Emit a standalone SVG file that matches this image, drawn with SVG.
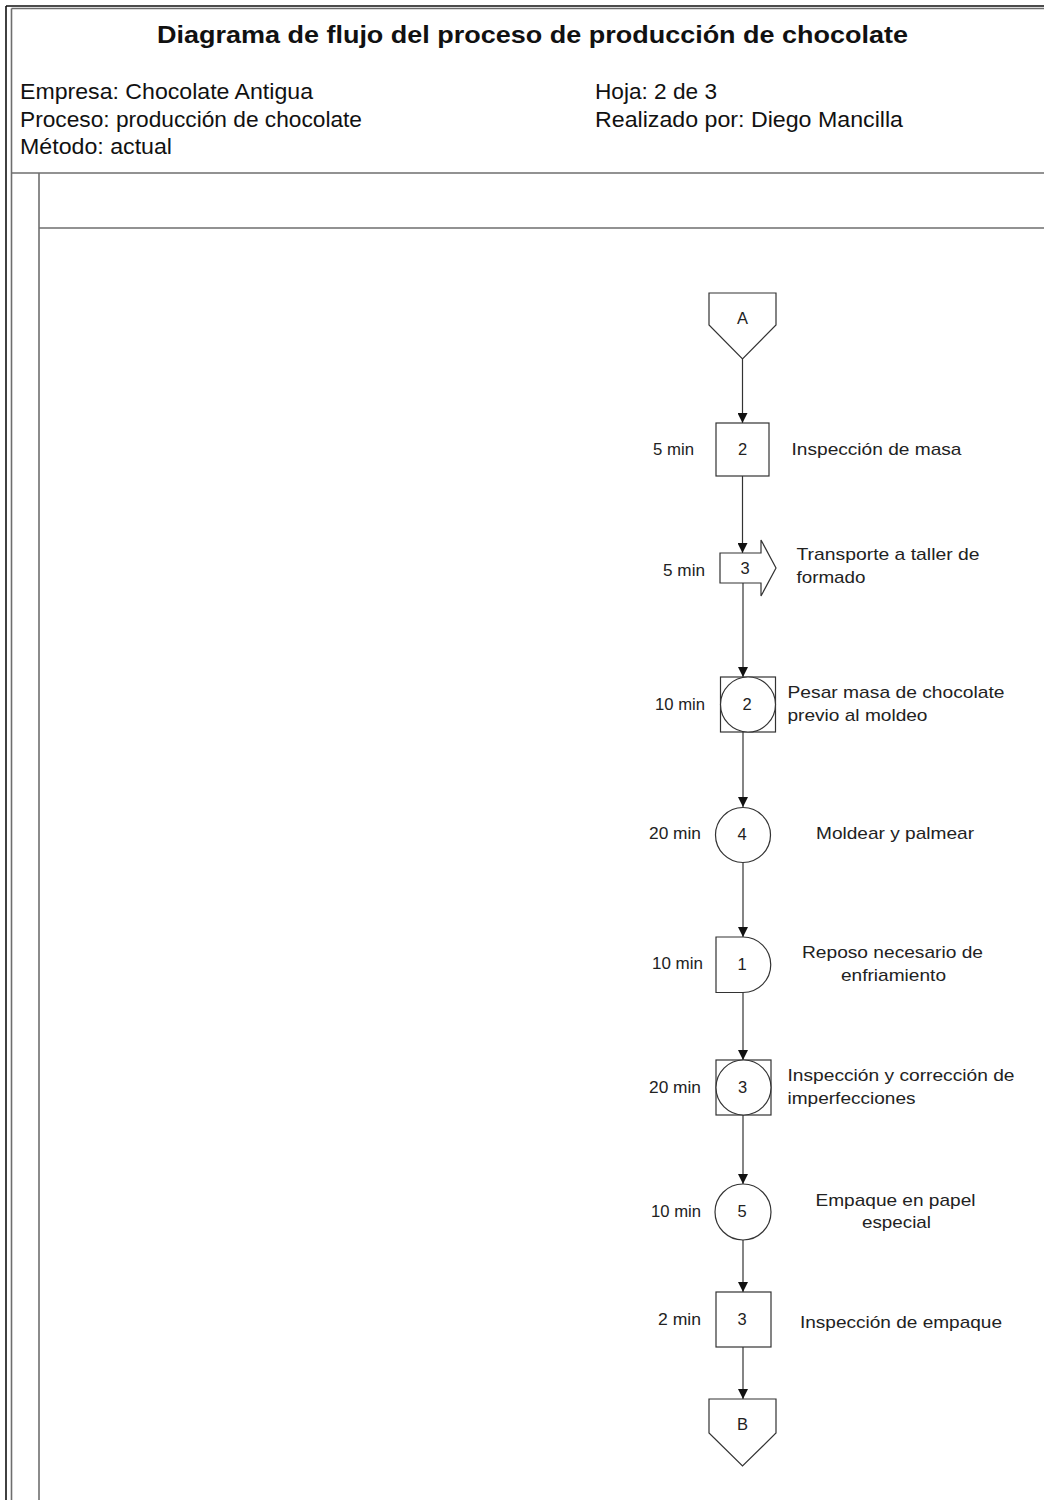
<svg xmlns="http://www.w3.org/2000/svg" width="1044" height="1500" viewBox="0 0 1044 1500">
  <style>
    .frame-dark { stroke: #111; stroke-width: 1.6; fill: none; }
    .frame-gray { stroke: #6e6e6e; stroke-width: 1.6; fill: none; }
    .shape { fill: #fff; stroke: #333; stroke-width: 1.2; }
    .conn { stroke: #333; stroke-width: 1.2; fill: none; }
    .title { font-family: "Liberation Sans", Arial, sans-serif; font-weight: bold; font-size: 24px; fill: #111; }
    .head { font-family: "Liberation Sans", Arial, sans-serif; font-size: 22px; fill: #111; }
    .lbl { font-family: "Liberation Sans", Arial, sans-serif; font-size: 17px; fill: #222; }
    .num { font-family: "Liberation Sans", Arial, sans-serif; font-size: 16.5px; fill: #222; text-anchor: middle; }
  </style>
  <defs>
    <marker id="arrow" viewBox="0 0 10 10" refX="10" refY="5" markerWidth="11" markerHeight="10" markerUnits="userSpaceOnUse" orient="auto">
      <path d="M0,0 L10,5 L0,10 z" fill="#111"/>
    </marker>
  </defs>

  <rect width="1044" height="1500" fill="#fff"/>

  <!-- sheet frame -->
  <g id="frame">
    <line class="frame-dark" x1="6" y1="6" x2="1044" y2="6"/>
    <line class="frame-gray" x1="11.5" y1="8.5" x2="1044" y2="8.5"/>
    <line class="frame-dark" x1="6" y1="6" x2="6" y2="1500"/>
    <line class="frame-gray" x1="11.5" y1="8.5" x2="11.5" y2="1500"/>
    <line class="frame-gray" x1="11.5" y1="173" x2="1044" y2="173"/>
    <line class="frame-gray" x1="39" y1="173" x2="39" y2="1500"/>
    <line class="frame-gray" x1="39" y1="228" x2="1044" y2="228"/>
  </g>

  <!-- header -->
  <g id="header">
    <text class="title" x="157" y="43" textLength="751" lengthAdjust="spacingAndGlyphs">Diagrama de flujo del proceso de producción de chocolate</text>
    <text class="head" x="20" y="99" textLength="293" lengthAdjust="spacingAndGlyphs">Empresa: Chocolate Antigua</text>
    <text class="head" x="20" y="127" textLength="342" lengthAdjust="spacingAndGlyphs">Proceso: producción de chocolate</text>
    <text class="head" x="20" y="154" textLength="152" lengthAdjust="spacingAndGlyphs">Método: actual</text>
    <text class="head" x="595" y="99" textLength="122" lengthAdjust="spacingAndGlyphs">Hoja: 2 de 3</text>
    <text class="head" x="595" y="127" textLength="308" lengthAdjust="spacingAndGlyphs">Realizado por: Diego Mancilla</text>
  </g>

  <!-- connectors -->
  <g id="connectors">
    <line class="conn" x1="742.5" y1="359" x2="742.5" y2="423" marker-end="url(#arrow)"/>
    <line class="conn" x1="742.5" y1="476" x2="742.5" y2="553" marker-end="url(#arrow)"/>
    <line class="conn" x1="743" y1="583" x2="743" y2="677" marker-end="url(#arrow)"/>
    <line class="conn" x1="743" y1="732" x2="743" y2="807" marker-end="url(#arrow)"/>
    <line class="conn" x1="743" y1="862.5" x2="743" y2="937" marker-end="url(#arrow)"/>
    <line class="conn" x1="743" y1="992.5" x2="743" y2="1060" marker-end="url(#arrow)"/>
    <line class="conn" x1="743" y1="1115" x2="743" y2="1184" marker-end="url(#arrow)"/>
    <line class="conn" x1="743" y1="1240" x2="743" y2="1292" marker-end="url(#arrow)"/>
    <line class="conn" x1="743" y1="1347" x2="743" y2="1399" marker-end="url(#arrow)"/>
  </g>

  <!-- off-page connector A -->
  <g id="node-A">
    <polygon class="shape" points="709,293 776,293 776,325 742.5,359 709,325"/>
    <text class="num" x="742.5" y="324">A</text>
  </g>

  <!-- inspection 2 -->
  <g id="node-insp2">
    <rect class="shape" x="716" y="423" width="53" height="53"/>
    <text class="num" x="742.5" y="455">2</text>
    <text class="lbl" x="653" y="455" textLength="41" lengthAdjust="spacingAndGlyphs">5 min</text>
    <text class="lbl" x="791.5" y="455" textLength="170" lengthAdjust="spacingAndGlyphs">Inspección de masa</text>
  </g>

  <!-- transport 3 -->
  <g id="node-transp3">
    <polygon class="shape" points="720,553 761,553 761,540 776,568 761,596 761,583 720,583"/>
    <text class="num" x="745" y="574">3</text>
    <text class="lbl" x="663" y="576" textLength="42" lengthAdjust="spacingAndGlyphs">5 min</text>
    <text class="lbl" x="796.5" y="560" textLength="183" lengthAdjust="spacingAndGlyphs">Transporte a taller de</text>
    <text class="lbl" x="796.5" y="583" textLength="69" lengthAdjust="spacingAndGlyphs">formado</text>
  </g>

  <!-- combined activity 2 -->
  <g id="node-comb2">
    <rect class="shape" x="720.5" y="677" width="55" height="55"/>
    <circle class="shape" cx="748" cy="704.5" r="27.5"/>
    <text class="num" x="747" y="710">2</text>
    <text class="lbl" x="655" y="710" textLength="50" lengthAdjust="spacingAndGlyphs">10 min</text>
    <text class="lbl" x="787.5" y="698" textLength="217" lengthAdjust="spacingAndGlyphs">Pesar masa de chocolate</text>
    <text class="lbl" x="787.5" y="721" textLength="140" lengthAdjust="spacingAndGlyphs">previo al moldeo</text>
  </g>

  <!-- operation 4 -->
  <g id="node-op4">
    <circle class="shape" cx="743" cy="835" r="27.5"/>
    <text class="num" x="742" y="840">4</text>
    <text class="lbl" x="649" y="839" textLength="52" lengthAdjust="spacingAndGlyphs">20 min</text>
    <text class="lbl" x="816" y="839" textLength="158" lengthAdjust="spacingAndGlyphs">Moldear y palmear</text>
  </g>

  <!-- delay 1 -->
  <g id="node-delay1">
    <path class="shape" d="M716,937 H743 A27.75,27.75 0 0 1 743,992.5 H716 Z"/>
    <text class="num" x="742" y="970">1</text>
    <text class="lbl" x="652" y="969" textLength="51" lengthAdjust="spacingAndGlyphs">10 min</text>
    <text class="lbl" x="802" y="958" textLength="181" lengthAdjust="spacingAndGlyphs">Reposo necesario de</text>
    <text class="lbl" x="841" y="981" textLength="105" lengthAdjust="spacingAndGlyphs">enfriamiento</text>
  </g>

  <!-- combined activity 3 -->
  <g id="node-comb3">
    <rect class="shape" x="716" y="1060" width="55" height="55"/>
    <circle class="shape" cx="743.5" cy="1087.5" r="27.5"/>
    <text class="num" x="742.5" y="1093">3</text>
    <text class="lbl" x="649" y="1093" textLength="52" lengthAdjust="spacingAndGlyphs">20 min</text>
    <text class="lbl" x="787.5" y="1081" textLength="227" lengthAdjust="spacingAndGlyphs">Inspección y corrección de</text>
    <text class="lbl" x="787.5" y="1104" textLength="128" lengthAdjust="spacingAndGlyphs">imperfecciones</text>
  </g>

  <!-- operation 5 -->
  <g id="node-op5">
    <circle class="shape" cx="743" cy="1212" r="28"/>
    <text class="num" x="742" y="1217">5</text>
    <text class="lbl" x="651" y="1217" textLength="50" lengthAdjust="spacingAndGlyphs">10 min</text>
    <text class="lbl" x="815.5" y="1206" textLength="160" lengthAdjust="spacingAndGlyphs">Empaque en papel</text>
    <text class="lbl" x="862" y="1228" textLength="69" lengthAdjust="spacingAndGlyphs">especial</text>
  </g>

  <!-- inspection 3 -->
  <g id="node-insp3">
    <rect class="shape" x="716" y="1292" width="55" height="55"/>
    <text class="num" x="742" y="1325">3</text>
    <text class="lbl" x="658" y="1325" textLength="43" lengthAdjust="spacingAndGlyphs">2 min</text>
    <text class="lbl" x="800" y="1328" textLength="202" lengthAdjust="spacingAndGlyphs">Inspección de empaque</text>
  </g>

  <!-- off-page connector B -->
  <g id="node-B">
    <polygon class="shape" points="709,1399 776,1399 776,1433 742.5,1466 709,1433"/>
    <text class="num" x="742.5" y="1430">B</text>
  </g>
</svg>
